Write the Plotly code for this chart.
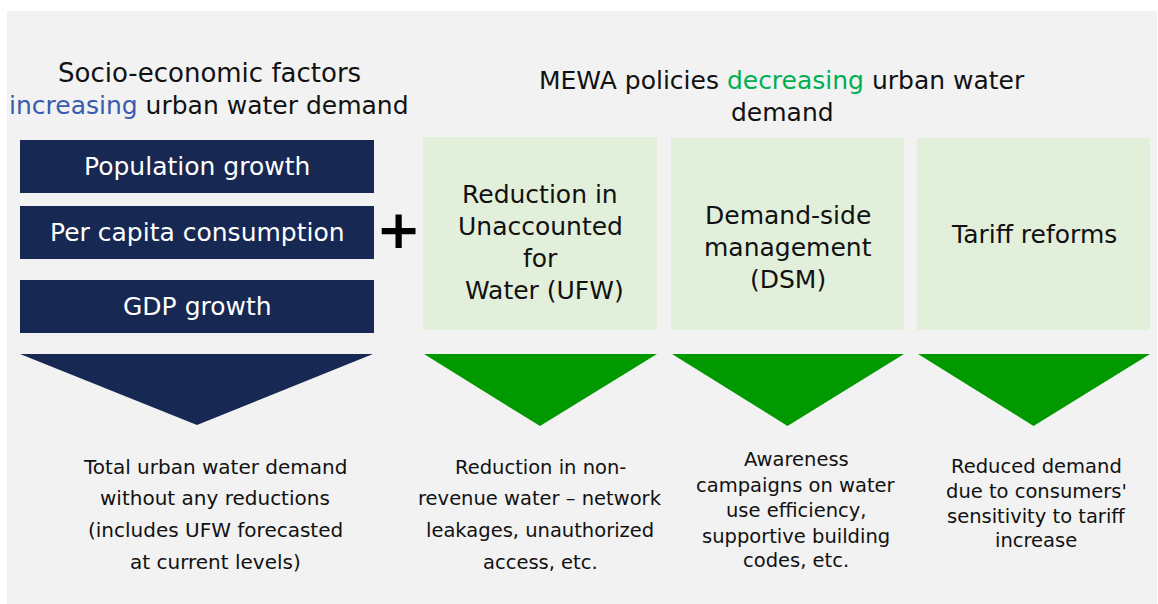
import plotly.graph_objects as go

# ---- content ----
left_title_lines = ["Socio-economic factors",
                    "<span style='color:#3A5BAF'>increasing</span> urban water demand"]
right_title_lines = ["MEWA policies <span style='color:#00B050'>decreasing</span> urban water",
                     "demand"]
factor_labels = ["Population growth", "Per capita consumption", "GDP growth"]
policy_labels = [["Reduction in", "Unaccounted", "for", " Water (UFW)"],
                 ["Demand-side", "management", "(DSM)"],
                 ["Tariff reforms"]]
outcome_left = ["Total urban water demand", "without any reductions",
                "(includes UFW forecasted", "at current levels)"]
outcome_policies = [["Reduction in non-", "revenue water – network",
                     "leakages, unauthorized", "access, etc."],
                    ["Awareness", "campaigns on water", "use efficiency,",
                     "supportive building", "codes, etc."],
                    ["Reduced demand", "due to consumers'",
                     "sensitivity to tariff", "increase"]]

# ---- layout geometry (pixels) ----
W, H = 1158, 604
NAVY = "#172852"
GREEN = "#009900"
LIGHT_GREEN = "#E2EFDA"
PANEL = "#F2F2F2"
FONT = "DejaVu Sans, Verdana, sans-serif"
TXT = "#111111"

factor_boxes = [(20, 374, 140, 193), (20, 374, 206, 259), (20, 374, 280, 333)]
policy_boxes = [(423, 657, 137, 330), (671, 904, 138, 330), (917, 1150, 138, 330)]
policy_text_y = [[194, 226, 258, 290], [215, 247, 279], [234]]
outcome_policy_x = [540, 796, 1036]
outcome_policy_y = [[467, 498, 530, 562], [459, 485, 510, 536, 560], [466, 491, 516, 540]]
outcome_left_y = [467, 498, 530, 562]

fig = go.Figure()
shapes = []
ann = []

shapes.append(dict(type="rect", x0=7, x1=1157, y0=11, y1=604,
                   fillcolor=PANEL, line=dict(width=0), layer="below"))

for (x0, x1, y0, y1), lab in zip(factor_boxes, factor_labels):
    shapes.append(dict(type="rect", x0=x0, x1=x1, y0=y0, y1=y1,
                       fillcolor=NAVY, line=dict(width=0)))
    ann.append(dict(x=(x0 + x1) / 2, y=(y0 + y1) / 2, text=lab,
                    font=dict(color="white", size=25, family=FONT)))

# navy triangle
shapes.append(dict(type="path", path="M 20 354 L 373 354 L 197 425 Z",
                   fillcolor=NAVY, line=dict(width=0)))

for (x0, x1, y0, y1), lines, ys in zip(policy_boxes, policy_labels, policy_text_y):
    shapes.append(dict(type="rect", x0=x0, x1=x1, y0=y0, y1=y1,
                       fillcolor=LIGHT_GREEN, line=dict(width=0)))
    cx = (x0 + x1) / 2
    for ln, y in zip(lines, ys):
        ann.append(dict(x=cx, y=y, text=ln,
                        font=dict(color=TXT, size=25, family=FONT)))
    shapes.append(dict(type="path",
                       path=f"M {x0+1} 354 L {x1} 354 L {cx} 426 Z",
                       fillcolor=GREEN, line=dict(width=0)))

# titles
for ln, y, s in zip(left_title_lines, [73, 105], [26, 25]):
    ann.append(dict(x=209, y=y, text=ln, font=dict(color=TXT, size=s, family=FONT)))
for ln, y in zip(right_title_lines, [80, 112]):
    ann.append(dict(x=782, y=y, text=ln, font=dict(color=TXT, size=25, family=FONT)))

# plus sign
ann.append(dict(x=398.5, y=229, text="<b>+</b>", font=dict(color="#000000", size=54, family=FONT)))

# outcomes
for ln, y in zip(outcome_left, outcome_left_y):
    ann.append(dict(x=215, y=y, text=ln, font=dict(color=TXT, size=20, family=FONT)))
for cx, lines, ys in zip(outcome_policy_x, outcome_policies, outcome_policy_y):
    for ln, y in zip(lines, ys):
        ann.append(dict(x=cx, y=y, text=ln, font=dict(color=TXT, size=19.5, family=FONT)))

for a in ann:
    a.update(xref="x", yref="y", showarrow=False, xanchor="center", yanchor="middle")

fig.update_layout(
    width=W, height=H, autosize=False,
    margin=dict(l=0, r=0, t=0, b=0),
    paper_bgcolor="white", plot_bgcolor="white",
    xaxis=dict(range=[0, W], visible=False, fixedrange=True),
    yaxis=dict(range=[H, 0], visible=False, fixedrange=True),
    shapes=shapes, annotations=ann, showlegend=False,
)
fig.write_html("out.html", config={"displayModeBar": False},
               post_script="document.body.style.margin='0';document.body.style.overflow='hidden';")
